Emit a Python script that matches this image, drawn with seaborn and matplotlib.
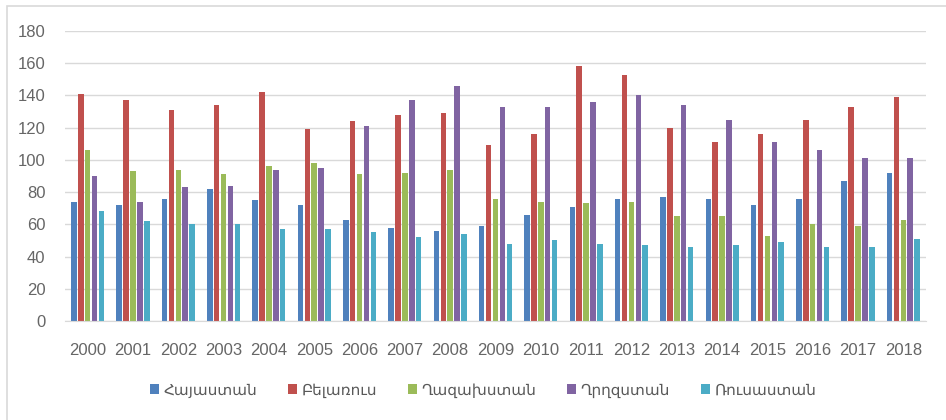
import pandas as pd
import matplotlib
matplotlib.use("Agg")
import matplotlib.pyplot as plt
from matplotlib import patches
import seaborn as sns

years = [str(y) for y in range(2000, 2019)]
countries = ["Հայաստան", "Բելառուս", "Ղազախստան", "Ղրղզստան", "Ռուսաստան"]

armenia = [74, 72, 76, 82, 75, 72, 63, 58, 56, 59, 66, 71, 76, 77, 76, 72, 76, 87, 92]
belarus = [141, 137, 131, 134, 142, 119, 124, 128, 129, 109, 116, 158, 153, 120, 111, 116, 125, 133, 139]
kazakhstan = [106, 93, 94, 91, 96, 98, 91, 92, 94, 76, 74, 73, 74, 65, 65, 53, 60, 59, 63]
kyrgyzstan = [90, 74, 83, 84, 94, 95, 121, 137, 146, 133, 133, 136, 140, 134, 125, 111, 106, 101, 101]
russia = [68, 62, 60, 60, 57, 57, 55, 52, 54, 48, 50, 48, 47, 46, 47, 49, 46, 46, 51]

colors = ["#4F81BD", "#C0504D", "#9BBB59", "#8064A2", "#4BACC6"]

series = [armenia, belarus, kazakhstan, kyrgyzstan, russia]
rows = []
for name, vals in zip(countries, series):
    for yr, v in zip(years, vals):
        rows.append({"year": yr, "value": v, "country": name})
df = pd.DataFrame(rows)

W, H = 946, 420
fig = plt.figure(figsize=(W / 100, H / 100), dpi=100)
ax = fig.add_axes([65 / W, (H - 321) / H, 861 / W, 290 / H])

sns.barplot(data=df, x="year", y="value", hue="country", palette=colors,
            width=0.76, gap=0.2, saturation=1, ax=ax, legend=True)

ax.set_ylim(0, 180)
ax.set_yticks(range(0, 181, 20))
ax.set_xlim(-0.5, len(years) - 0.5)
ax.set_xlabel("")
ax.set_ylabel("")
ax.grid(axis="y", color="#D9D9D9", lw=1)
ax.set_axisbelow(True)
for s in ["top", "right", "left"]:
    ax.spines[s].set_visible(False)
ax.spines["bottom"].set_color("#D9D9D9")
ax.tick_params(axis="both", length=0, colors="#666666", labelsize=12)
ax.tick_params(axis="x", pad=16)
ax.tick_params(axis="y", pad=14)
for lab in ax.get_xticklabels() + ax.get_yticklabels():
    lab.set_fontfamily("Liberation Sans")

handles, labels = ax.get_legend_handles_labels()
ax.legend_.remove()
fig.legend(handles, labels, loc="center", bbox_to_anchor=(483 / W, (H - 390) / H),
           ncol=5, frameon=False, handlelength=0.6, handleheight=0.6,
           handletextpad=0.3, columnspacing=2.0,
           prop={"family": "DejaVu Sans", "size": 11}, labelcolor="#595959")

# chart area border
fig.patches.append(patches.Rectangle((7 / W, -0.1), 1.2, (H - 6) / H + 0.1,
                                     transform=fig.transFigure, fill=False,
                                     edgecolor="#D9D9D9", lw=1.2))

fig.savefig("out.png", dpi=100)
